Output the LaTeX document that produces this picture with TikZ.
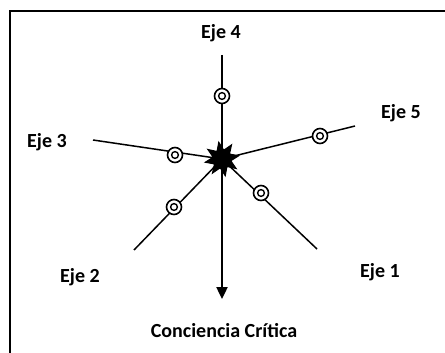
\documentclass[tikz,border=0pt]{standalone}
\usepackage{fontspec}
\setmainfont{Carlito}
\usetikzlibrary{shapes.geometric,arrows.meta}
\tikzset{
  axisline/.style={line width=1.5pt},
  ring/.style={circle,draw,line width=1.6pt,fill=white,inner sep=0pt,minimum size=15pt,
    path picture={\draw[line width=1.4pt] (path picture bounding box.center) circle (3.4pt);}},
  lbl/.style={font=\bfseries\fontsize{20}{23}\selectfont,inner sep=0pt},
  hub/.style={star,star points=8,star point ratio=1.9,fill=black,inner sep=0pt,minimum size=37pt}
}
\begin{document}
\begin{tikzpicture}[x=1pt,y=-1pt]
\useasboundingbox (0,0) rectangle (445,353);
\fill[white] (0,0) rectangle (445,353);
% frame
\draw[line width=2pt] (10,353) -- (10,11) -- (445,11);
% center and axis ends
\coordinate (c) at (222,159);
\coordinate (e4) at (222,55);
\coordinate (e3) at (93,140);
\coordinate (e2) at (134,250);
\coordinate (e1) at (317,249);
\coordinate (e5) at (355,126);
\coordinate (tip) at (222,299);
% axes
\draw[axisline] (e4) -- (c);
\draw[axisline] (e3) -- (c);
\draw[axisline] (e2) -- (c);
\draw[axisline] (e1) -- (c);
\draw[axisline] (e5) -- (c);
\draw[line width=2.4pt,-{Triangle[length=12pt,width=11pt]}] (c) -- (tip);
% hub
\node[hub,rotate=11] (hubstar) at (c) {};
% rings
\node[ring] (r4) at (222,96) {};
\node[ring] (r3) at (175,155) {};
\node[ring] (r2) at (174,207) {};
\node[ring] (r1) at (261,193) {};
\node[ring] (r5) at (320,136) {};
% labels
\node[lbl] (l4) at (221,33) {Eje 4};
\node[lbl] (l3) at (47,142) {Eje 3};
\node[lbl] (l2) at (80,277) {Eje 2};
\node[lbl] (l1) at (380,272) {Eje 1};
\node[lbl] (l5) at (401,113) {Eje 5};
\node[lbl] (lc) at (224,331) {Conciencia Crítica};
\end{tikzpicture}
\end{document}
